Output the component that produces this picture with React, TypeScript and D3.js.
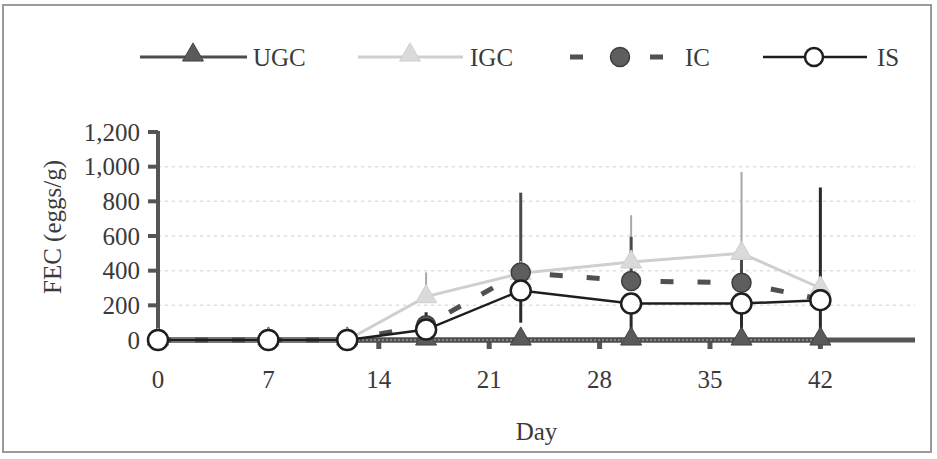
import { useRef, useEffect } from 'react';
import * as d3 from 'd3';

// sampling days
const DAYS = [0, 7, 12, 17, 23, 30, 37, 42];

// mean FEC per group (eggs/g)
const UGC = [0, 0, 0, 0, 0, 0, 0, 0];
const IGC = [0, 0, 0, 250, 385, 450, 500, 300];
const IC = [0, 0, 0, 85, 390, 340, 330, 235];
const IS = [0, 0, 0, 60, 285, 210, 210, 230];

// error bar ends (null = not drawn)
const IGC_HIGH = [null, null, null, 390, null, 720, 970, null];
const IC_HIGH = [null, null, null, null, 850, 595, 560, null];
const IS_HIGH = [null, null, null, 160, null, null, null, 880];
const IS_LOW = [null, null, null, 0, 100, 0, 0, 0];

const Y_TICKS = [0, 200, 400, 600, 800, 1000, 1200];
const X_TICKS = [0, 7, 14, 21, 28, 35, 42];
const GRID = [200, 400, 600, 800, 1000];

const FONT = '"Liberation Serif", "Times New Roman", serif';
const TEXT = '#3a3a3a';
const AXIS = '#555';

const W = 937;
const H = 459;

export default function App() {
  const svgRef = useRef<SVGSVGElement>(null);

  useEffect(() => {
    if (!svgRef.current) return;
    const svg = d3.select(svgRef.current);
    svg.selectAll('*').remove();

    const x = d3.scaleLinear().domain([0, 48]).range([158, 915]);
    const y = d3.scaleLinear().domain([0, 1200]).range([340, 132]);

    // frame
    svg.append('rect')
      .attr('x', 3).attr('y', 5).attr('width', 928).attr('height', 447)
      .attr('fill', '#fff').attr('stroke', '#9a9a9a').attr('stroke-width', 2);

    // gridlines
    svg.selectAll('line.grid')
      .data(GRID)
      .join('line')
      .attr('x1', x(0)).attr('x2', x(48))
      .attr('y1', (d) => y(d)).attr('y2', (d) => y(d))
      .attr('stroke', '#dedede').attr('stroke-width', 1.5)
      .attr('stroke-dasharray', '3,4');

    // y axis
    svg.append('line')
      .attr('x1', x(0)).attr('x2', x(0))
      .attr('y1', y(1200) - 1).attr('y2', y(0))
      .attr('stroke', AXIS).attr('stroke-width', 4);
    svg.selectAll('line.ytick')
      .data(Y_TICKS)
      .join('line')
      .attr('x1', x(0) - 10).attr('x2', x(0))
      .attr('y1', (d) => y(d)).attr('y2', (d) => y(d))
      .attr('stroke', AXIS).attr('stroke-width', 4);
    svg.selectAll('text.ylab')
      .data(Y_TICKS)
      .join('text')
      .attr('x', x(0) - 18)
      .attr('y', (d) => y(d))
      .attr('dy', '0.35em')
      .attr('text-anchor', 'end')
      .attr('font-family', FONT).attr('font-size', 25).attr('fill', TEXT)
      .text((d) => d3.format(',')(d));

    // x axis
    svg.append('line')
      .attr('x1', x(0)).attr('x2', x(48))
      .attr('y1', y(0)).attr('y2', y(0))
      .attr('stroke', AXIS).attr('stroke-width', 5);
    svg.selectAll('line.xtick')
      .data(X_TICKS)
      .join('line')
      .attr('x1', (d) => x(d)).attr('x2', (d) => x(d))
      .attr('y1', y(0)).attr('y2', y(0) + 9)
      .attr('stroke', AXIS).attr('stroke-width', 5);
    svg.selectAll('text.xlab')
      .data(X_TICKS)
      .join('text')
      .attr('x', (d) => x(d))
      .attr('y', 388)
      .attr('text-anchor', 'middle')
      .attr('font-family', FONT).attr('font-size', 25).attr('fill', TEXT)
      .text((d) => String(d));

    // axis titles
    svg.append('text')
      .attr('x', (x(0) + x(48)) / 2).attr('y', 440)
      .attr('text-anchor', 'middle')
      .attr('font-family', FONT).attr('font-size', 25).attr('fill', TEXT)
      .text('Day');
    svg.append('text')
      .attr('transform', 'translate(52,' + 227 + ') rotate(-90)')
      .attr('text-anchor', 'middle').attr('dy', '0.35em')
      .attr('font-family', FONT).attr('font-size', 25).attr('fill', TEXT)
      .text('FEC (eggs/g)');

    // error bars
    const errBars = (
      vals: number[],
      ends: (number | null)[],
      color: string,
      width: number,
    ) => {
      const rows = DAYS.map((d, i) => ({ d, v: vals[i], e: ends[i] })).filter((r) => r.e !== null);
      svg.append('g').selectAll('line')
        .data(rows)
        .join('line')
        .attr('x1', (r) => x(r.d)).attr('x2', (r) => x(r.d))
        .attr('y1', (r) => y(r.v)).attr('y2', (r) => y(r.e as number))
        .attr('stroke', color).attr('stroke-width', width);
    };
    errBars(IGC, IGC_HIGH, '#a8a8a8', 2);
    errBars(IC, IC_HIGH, '#4a4a4a', 3);
    errBars(IS, IS_HIGH, '#2a2a2a', 3);
    errBars(IS, IS_LOW, '#2a2a2a', 3);

    const line = (vals: number[]) =>
      d3.line<number>().x((_, i) => x(DAYS[i])).y((v) => y(v))(vals) as string;

    const tri = d3.symbol().type(d3.symbolTriangle).size(190);
    const triLight = d3.symbol().type(d3.symbolTriangle).size(190);

    // UGC
    svg.append('path').attr('d', line(UGC)).attr('fill', 'none')
      .attr('stroke', '#4d4d4d').attr('stroke-width', 5);
    svg.append('path').attr('d', line(UGC)).attr('fill', 'none')
      .attr('stroke', '#bdbdbd').attr('stroke-width', 1).attr('stroke-dasharray', '2,2');
    svg.selectAll('path.ugc')
      .data(UGC)
      .join('path')
      .attr('transform', (v, i) => 'translate(' + x(DAYS[i]) + ',' + (y(v) - 1) + ')')
      .attr('d', tri() as string)
      .attr('fill', '#5a5a5a').attr('stroke', '#444').attr('stroke-width', 1);

    // IGC
    svg.append('path').attr('d', line(IGC)).attr('fill', 'none')
      .attr('stroke', '#cfcfcf').attr('stroke-width', 3);
    svg.selectAll('path.igc')
      .data(IGC)
      .join('path')
      .attr('transform', (v, i) => 'translate(' + x(DAYS[i]) + ',' + y(v) + ')')
      .attr('d', triLight() as string)
      .attr('fill', '#dadada').attr('stroke', '#cfcfcf').attr('stroke-width', 1);

    // IC
    svg.append('path').attr('d', line(IC)).attr('fill', 'none')
      .attr('stroke', '#505050').attr('stroke-width', 5).attr('stroke-dasharray', '13,24');
    svg.selectAll('circle.ic')
      .data(IC)
      .join('circle')
      .attr('cx', (_, i) => x(DAYS[i])).attr('cy', (v) => y(v))
      .attr('r', 9.5)
      .attr('fill', '#5e5e5e').attr('stroke', '#3e3e3e').attr('stroke-width', 1.5);

    // IS
    svg.append('path').attr('d', line(IS)).attr('fill', 'none')
      .attr('stroke', '#1e1e1e').attr('stroke-width', 2.5);
    svg.selectAll('circle.is')
      .data(IS)
      .join('circle')
      .attr('cx', (_, i) => x(DAYS[i])).attr('cy', (v) => y(v))
      .attr('r', 10)
      .attr('fill', '#fff').attr('stroke', '#1e1e1e').attr('stroke-width', 2.5);

    // legend
    const ly = 57;
    const lg = svg.append('g');
    const legendText = (tx: number, label: string) =>
      lg.append('text').attr('x', tx).attr('y', ly).attr('dy', '0.35em')
        .attr('font-family', FONT).attr('font-size', 25).attr('fill', TEXT).text(label);

    lg.append('line').attr('x1', 140).attr('x2', 247).attr('y1', ly).attr('y2', ly)
      .attr('stroke', '#4d4d4d').attr('stroke-width', 3);
    lg.append('path').attr('transform', 'translate(193,' + (ly - 2) + ')').attr('d', tri() as string)
      .attr('fill', '#5a5a5a').attr('stroke', '#444');
    legendText(253, 'UGC');

    lg.append('line').attr('x1', 358).attr('x2', 463).attr('y1', ly).attr('y2', ly)
      .attr('stroke', '#cfcfcf').attr('stroke-width', 3);
    lg.append('path').attr('transform', 'translate(410,' + (ly - 2) + ')').attr('d', triLight() as string)
      .attr('fill', '#dadada').attr('stroke', '#cfcfcf');
    legendText(470, 'IGC');

    lg.append('line').attr('x1', 570).attr('x2', 663).attr('y1', ly).attr('y2', ly)
      .attr('stroke', '#505050').attr('stroke-width', 5).attr('stroke-dasharray', '13,67');
    lg.append('circle').attr('cx', 620).attr('cy', ly).attr('r', 9.5)
      .attr('fill', '#5e5e5e').attr('stroke', '#3e3e3e').attr('stroke-width', 1.5);
    legendText(685, 'IC');

    lg.append('line').attr('x1', 763).attr('x2', 867).attr('y1', ly).attr('y2', ly)
      .attr('stroke', '#1e1e1e').attr('stroke-width', 2.5);
    lg.append('circle').attr('cx', 814).attr('cy', ly).attr('r', 9)
      .attr('fill', '#fff').attr('stroke', '#1e1e1e').attr('stroke-width', 2.5);
    legendText(877, 'IS');
  }, []);

  return (
    <svg
      ref={svgRef}
      width={W}
      height={H}
      viewBox={'0 0 ' + W + ' ' + H}
      style={{ position: 'absolute', left: 0, top: 0, background: '#fff' }}
    />
  );
}
